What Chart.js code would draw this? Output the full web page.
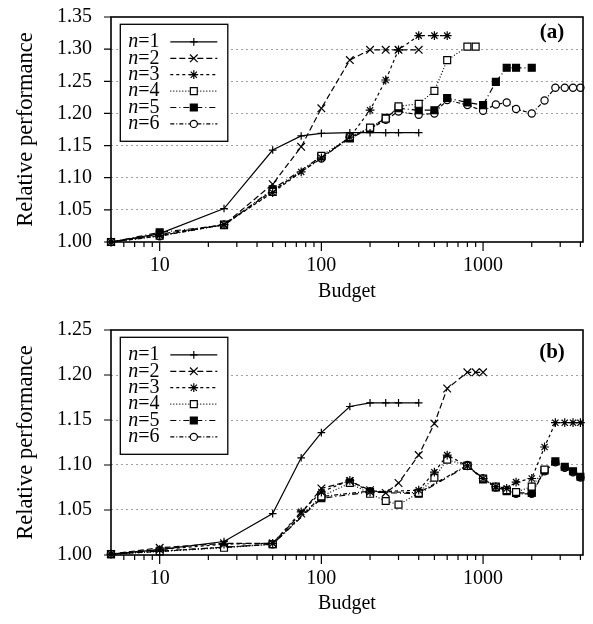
<!DOCTYPE html>
<html><head><meta charset="utf-8">
<script src="https://cdn.jsdelivr.net/npm/chart.js@4/dist/chart.umd.min.js"></script>
<style>
html,body{margin:0;padding:0;background:#fff;}
#wrap{position:relative;width:593px;height:624px;overflow:hidden;}
canvas{position:absolute;left:0;}
</style></head><body>
<div id="wrap">
<canvas id="ca" width="593" height="312" style="top:0"></canvas>
<canvas id="cb" width="593" height="312" style="top:312px"></canvas>
</div>
<script>
// ---------- data ----------
const SERIES_N = [1, 2, 3, 4, 5, 6];
const X_MAJOR_TICKS = [10, 100, 1000];
const X_MINOR_TICKS = [6,7,8,9,20,30,40,50,60,70,80,90,200,300,400,500,600,700,800,900,2000,3000,4000];
const A_Y_TICKS = [1.00, 1.05, 1.10, 1.15, 1.20, 1.25, 1.30, 1.35];
const B_Y_TICKS = [1.00, 1.05, 1.10, 1.15, 1.20, 1.25];

// panel (a)
const A_N1_X = [5,10,25,50,75,100,150,200,250,300,400];
const A_N1_Y = [1.000,1.013,1.052,1.143,1.165,1.169,1.170,1.170,1.170,1.170,1.170];
const A_N2_X = [5,10,25,50,75,100,150,200,250,300,400];
const A_N2_Y = [1.000,1.012,1.027,1.090,1.148,1.208,1.283,1.299,1.299,1.299,1.299];
const A_N3_X = [5,10,25,50,75,100,150,200,250,300,400,500,600];
const A_N3_Y = [1.000,1.010,1.027,1.077,1.109,1.131,1.163,1.205,1.252,1.299,1.321,1.321,1.321];
const A_N4_X = [5,10,25,50,100,150,200,250,300,400,500,600,800,900];
const A_N4_Y = [1.000,1.010,1.027,1.078,1.134,1.163,1.178,1.192,1.211,1.215,1.235,1.283,1.304,1.304];
const A_N5_X = [5,10,25,50,100,150,200,250,300,400,500,600,800,1000,1200,1400,1600,2000];
const A_N5_Y = [1.000,1.015,1.026,1.082,1.133,1.161,1.177,1.193,1.208,1.205,1.205,1.224,1.217,1.213,1.249,1.271,1.271,1.271];
const A_N6_X = [5,10,25,50,100,150,200,250,300,400,500,600,800,1000,1200,1400,1600,2000,2400,2800,3200,3600,4000];
const A_N6_Y = [1.000,1.009,1.027,1.080,1.130,1.163,1.176,1.190,1.203,1.198,1.200,1.221,1.213,1.204,1.214,1.217,1.207,1.200,1.220,1.240,1.240,1.240,1.240];

// panel (b)
const B_N1_X = [5,10,25,50,75,100,150,200,250,300,400];
const B_N1_Y = [1.001,1.006,1.015,1.046,1.108,1.136,1.165,1.169,1.169,1.169,1.169];
const B_N2_X = [5,10,25,50,75,100,150,200,250,300,400,500,600,800,900,1000];
const B_N2_Y = [1.001,1.008,1.013,1.013,1.046,1.074,1.082,1.072,1.069,1.080,1.111,1.146,1.185,1.203,1.203,1.203];
const B_N3_X = [5,10,25,50,75,100,150,200,400,500,600,800,1000,1200,1400,1600,2000,2400,2800,3200,3600,4000];
const B_N3_Y = [1.001,1.006,1.012,1.013,1.048,1.070,1.083,1.070,1.072,1.092,1.111,1.099,1.085,1.076,1.074,1.081,1.085,1.120,1.147,1.147,1.147,1.147];
const B_N4_X = [5,10,25,50,100,150,200,250,300,400,500,600,800,1000,1200,1400,1600,2000,2400];
const B_N4_Y = [1.001,1.004,1.008,1.012,1.065,1.080,1.068,1.060,1.056,1.069,1.086,1.106,1.099,1.085,1.076,1.072,1.070,1.076,1.095];
const B_N5_X = [5,50,100,200,400,800,1000,1200,1400,1600,2000,2400,2800,3200,3600,4000];
const B_N5_Y = [1.001,1.012,1.063,1.070,1.068,1.099,1.084,1.075,1.071,1.069,1.069,1.094,1.104,1.098,1.093,1.087];
const B_N6_X = [5,10,50,100,200,400,800,1000,1200,1400,1600,2000,2400,2800,3200,3600,4000];
const B_N6_Y = [1.001,1.004,1.012,1.065,1.071,1.069,1.100,1.085,1.075,1.072,1.068,1.068,1.093,1.103,1.097,1.092,1.086];

// ---------- styles ----------
const FONT = "'Liberation Serif', 'Times New Roman', serif";
const STYLES = [
  {pointStyle:'cross',    radius:3.8, fill:'#000', dash:[]},
  {pointStyle:'crossRot', radius:5.4, fill:'#000', dash:[6,3]},
  {pointStyle:'star',     radius:4.4, fill:'#000', dash:[3,3]},
  {pointStyle:'rect',     radius:4.9, fill:'#fff', dash:[1,2]},
  {pointStyle:'rect',     radius:4.9, fill:'#000', dash:[6,3,1,3]},
  {pointStyle:'circle',   radius:3.6, fill:'#fff', dash:[4,2,1,2]}
];

function makeDatasets(xs, ys) {
  return xs.map((X, i) => ({
    label: 'n=' + SERIES_N[i],
    data: X.map((x, j) => ({x: x, y: ys[i][j]})),
    borderColor: '#000',
    borderWidth: 1.2,
    borderDash: STYLES[i].dash,
    pointStyle: STYLES[i].pointStyle,
    pointRadius: STYLES[i].radius,
    pointBorderWidth: 1.2,
    pointBorderColor: '#000',
    pointBackgroundColor: STYLES[i].fill,
    tension: 0,
    fill: false,
    clip: false
  }));
}

function drawMarker(ctx, st, x, y) {
  ctx.fillStyle = st.fill;
  ctx.strokeStyle = '#000';
  ctx.lineWidth = 1.2;
  ctx.setLineDash([]);
  if (Chart.helpers && Chart.helpers.drawPoint) {
    Chart.helpers.drawPoint(ctx, {pointStyle: st.pointStyle, radius: st.radius, borderWidth: 1.2, rotation: 0}, x, y);
  }
}

const panelPlugin = {
  id: 'panelDeco',
  afterDraw(chart, args, opts) {
    const ctx = chart.ctx, a = chart.chartArea;
    const xs = chart.scales.x, ys = chart.scales.y;
    ctx.save();
    ctx.strokeStyle = '#000';
    ctx.setLineDash([]);
    ctx.lineWidth = 1.2;
    ctx.beginPath();
    X_MINOR_TICKS.forEach(v => { const p = xs.getPixelForValue(v); ctx.moveTo(p, a.bottom); ctx.lineTo(p, a.bottom + 5); });
    X_MAJOR_TICKS.forEach(v => { const p = xs.getPixelForValue(v); ctx.moveTo(p, a.bottom); ctx.lineTo(p, a.bottom + 9); });
    ys.ticks.forEach(t => { const p = ys.getPixelForValue(t.value); ctx.moveTo(a.left - 7, p); ctx.lineTo(a.left, p); });
    ctx.stroke();
    ctx.lineWidth = 1.6;
    ctx.strokeRect(a.left, a.top, a.right - a.left, a.bottom - a.top);

    // panel label
    ctx.fillStyle = '#000';
    ctx.font = 'bold 21px ' + FONT;
    ctx.textAlign = 'center';
    ctx.textBaseline = 'middle';
    ctx.fillText(opts.label, a.right - 31, ys.getPixelForValue(ys.max - 0.025));

    // legend
    const lx = a.left + 9.3, ly = a.top + 7.3, lw = 107.5, lh = 117;
    ctx.fillStyle = '#fff';
    ctx.fillRect(lx, ly, lw, lh);
    ctx.lineWidth = 1.3;
    ctx.strokeStyle = '#000';
    ctx.strokeRect(lx, ly, lw, lh);
    chart.data.datasets.forEach((ds, i) => {
      const cy = ly + 17.6 + i * 16.4;
      ctx.fillStyle = '#000';
      ctx.textAlign = 'left';
      ctx.textBaseline = 'middle';
      ctx.font = 'italic 20px ' + FONT;
      ctx.fillText('n', lx + 8, cy);
      const w = ctx.measureText('n').width;
      ctx.font = '20px ' + FONT;
      ctx.fillText('=' + SERIES_N[i], lx + 8 + w, cy);
      ctx.lineWidth = 1.2;
      ctx.setLineDash(STYLES[i].dash);
      ctx.beginPath();
      ctx.moveTo(lx + 50, cy);
      ctx.lineTo(lx + 97, cy);
      ctx.stroke();
      drawMarker(ctx, STYLES[i], lx + 73.5, cy);
    });
    ctx.restore();
  }
};

function makeChart(id, xs, ys, yTicks, label, top, bottom) {
  const yMin = yTicks[0], yMax = yTicks[yTicks.length - 1];
  return new Chart(document.getElementById(id), {
    type: 'line',
    data: { datasets: makeDatasets(xs, ys) },
    plugins: [panelPlugin],
    options: {
      responsive: false,
      animation: false,
      devicePixelRatio: 1,
      events: [],
      layout: { padding: { top: top, right: 10, left: 0, bottom: 0 } },
      plugins: { legend: { display: false }, tooltip: { enabled: false }, panelDeco: { label: label } },
      scales: {
        x: {
          type: 'logarithmic',
          min: 5, max: 4150,
          afterBuildTicks: s => { s.ticks = X_MAJOR_TICKS.map(v => ({value: v})); },
          afterFit: s => { s.height = 312 - bottom; s.paddingLeft = 0; s.paddingRight = 0; s.paddingTop = 0; s.paddingBottom = 0; },
          grid: { display: false, drawTicks: false },
          border: { display: false },
          ticks: { color: '#000', font: { family: FONT, size: 20 }, padding: 12, maxRotation: 0, autoSkip: false,
                   callback: v => String(v) },
          title: { display: true, text: 'Budget', color: '#000', font: { family: FONT, size: 20 }, padding: { top: 0, bottom: 8 } }
        },
        y: {
          type: 'linear',
          min: yMin, max: yMax,
          afterBuildTicks: s => { s.ticks = yTicks.map(v => ({value: v})); },
          afterFit: s => { s.width = 111; s.paddingTop = 0; s.paddingBottom = 0; s.paddingLeft = 0; s.paddingRight = 0; },
          grid: { drawTicks: false, lineWidth: 1,
                  color: c => (c.index === 0 || c.index === yTicks.length - 1) ? 'rgba(0,0,0,0)' : '#a0a0a0' },
          border: { display: false, dash: [2, 3] },
          ticks: { color: '#000', font: { family: FONT, size: 20 }, padding: 19, callback: v => Number(v).toFixed(2) },
          title: { display: true, text: 'Relative performance', color: '#000', font: { family: FONT, size: 22.5 }, padding: { top: 13, bottom: 0 } }
        }
      }
    }
  });
}

makeChart('ca', [A_N1_X, A_N2_X, A_N3_X, A_N4_X, A_N5_X, A_N6_X], [A_N1_Y, A_N2_Y, A_N3_Y, A_N4_Y, A_N5_Y, A_N6_Y], A_Y_TICKS, '(a)', 17, 242);
makeChart('cb', [B_N1_X, B_N2_X, B_N3_X, B_N4_X, B_N5_X, B_N6_X], [B_N1_Y, B_N2_Y, B_N3_Y, B_N4_Y, B_N5_Y, B_N6_Y], B_Y_TICKS, '(b)', 18, 243);
</script>
</body></html>
